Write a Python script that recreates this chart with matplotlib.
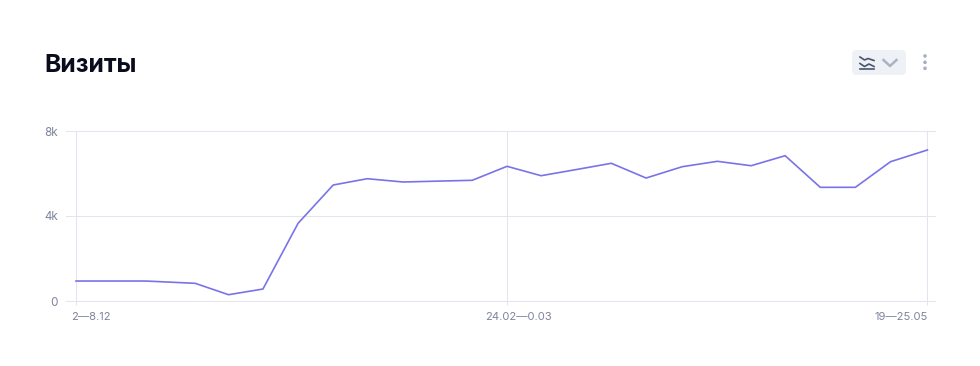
import matplotlib
matplotlib.use('Agg')
import matplotlib.pyplot as plt
from matplotlib.patches import FancyBboxPatch, Circle
from matplotlib.transforms import ScaledTranslation

plt.rcParams['font.family'] = ['Inter', 'DejaVu Sans']

# week position of each point (not evenly spaced in the picture)
weeks = [0, 0.99, 1.97, 3.36, 4.30, 5.27, 6.26, 7.25, 8.21, 9.22, 10.18, 11.17, 12.15,
         13.11, 14.10, 15.09, 16.07, 17.09, 18.08, 19.03, 19.99, 20.98, 21.97, 22.96, 24]
visits = [940, 940, 940, 832, 296, 564, 3655, 5458, 5755, 5600, 5640, 5680, 6338,
          5896, 6185, 6480, 5787, 6320, 6573, 6366, 6838, 5350, 5350, 6555, 7106]

x_ticks = [0, 12.15, 24]
x_labels = ['2—8.12', '24.02—0.03', '19—25.05']
y_ticks = [0, 4000, 8000]
y_labels = ['0', '4k', '8k']

W, H = 980, 366
GRID = '#e3e4f0'
TICK_TEXT = '#7f849e'

fig = plt.figure(figsize=(W / 100, H / 100), dpi=100, facecolor='white')

# plot area in pixels: gridlines run 66-935, 131-301
ax = fig.add_axes([66 / W, 1 - 301 / H, 869 / W, 170 / H])
px_per_week = 851.4 / 24
ax.set_xlim(-10 / px_per_week, 24 + 7.6 / px_per_week)
ax.set_ylim(0, 8000)
for s in ax.spines.values():
    s.set_visible(False)
ax.patch.set_alpha(0)

ax.set_axisbelow(True)
ax.grid(True, color=GRID, lw=0.75)
ax.set_xticks(x_ticks, x_labels)
ax.set_yticks(y_ticks, y_labels)
ax.tick_params(axis='x', length=3, width=0.75, color=GRID, pad=5, labelsize=8.1, labelcolor=TICK_TEXT)
ax.tick_params(axis='y', length=0, pad=5.8, labelsize=8.4, labelcolor=TICK_TEXT)
for line in ax.get_ygridlines() + ax.get_xgridlines():
    line.set_clip_on(False)
ax.plot(weeks, visits, color='#7a73e8', lw=1.2, solid_joinstyle='miter', clip_on=False, zorder=3)

# first label hangs right of its tick, middle one is off centre, last ends at its tick
x_lbls = ax.get_xticklabels()
x_lbls[0].set_ha('left')
x_lbls[0].set_transform(x_lbls[0].get_transform() + ScaledTranslation(-5 / 100, 0, fig.dpi_scale_trans))
x_lbls[1].set_transform(x_lbls[1].get_transform() + ScaledTranslation(11.5 / 100, 0, fig.dpi_scale_trans))
x_lbls[2].set_ha('right')

# overlay in pixel coordinates for the header
ov = fig.add_axes([0, 0, 1, 1])
ov.set_xlim(0, W)
ov.set_ylim(H, 0)
ov.axis('off')
ov.patch.set_alpha(0)

ov.text(44.5, 71.7, 'Визиты', fontsize=17.8, fontweight='bold', color='#0a0c1e', va='baseline', ha='left')

ov.add_patch(FancyBboxPatch((856, 54), 46, 17, boxstyle='round,pad=0,rounding_size=0.1',
                            fc='#eef1f6', ec='#eef1f6', lw=5.76, joinstyle='round'))
icon = '#4b5470'
ov.plot([860, 864.5, 868, 874], [57, 60, 58.5, 60.5], color=icon, lw=1.2)
ov.plot([860, 864.5, 869, 874], [63.5, 66.5, 64, 66.5], color=icon, lw=1.2)
ov.plot([860, 874], [69, 69], color=icon, lw=1.2)
ov.plot([883.5, 890, 896.5], [60, 66, 60], color='#a9b3c6', lw=1.8)
for yy in (56, 62.3, 68.3):
    ov.add_patch(Circle((925, yy), 1.8, fc='#a8aec4', ec='none'))

fig.savefig('out.png', dpi=100)
